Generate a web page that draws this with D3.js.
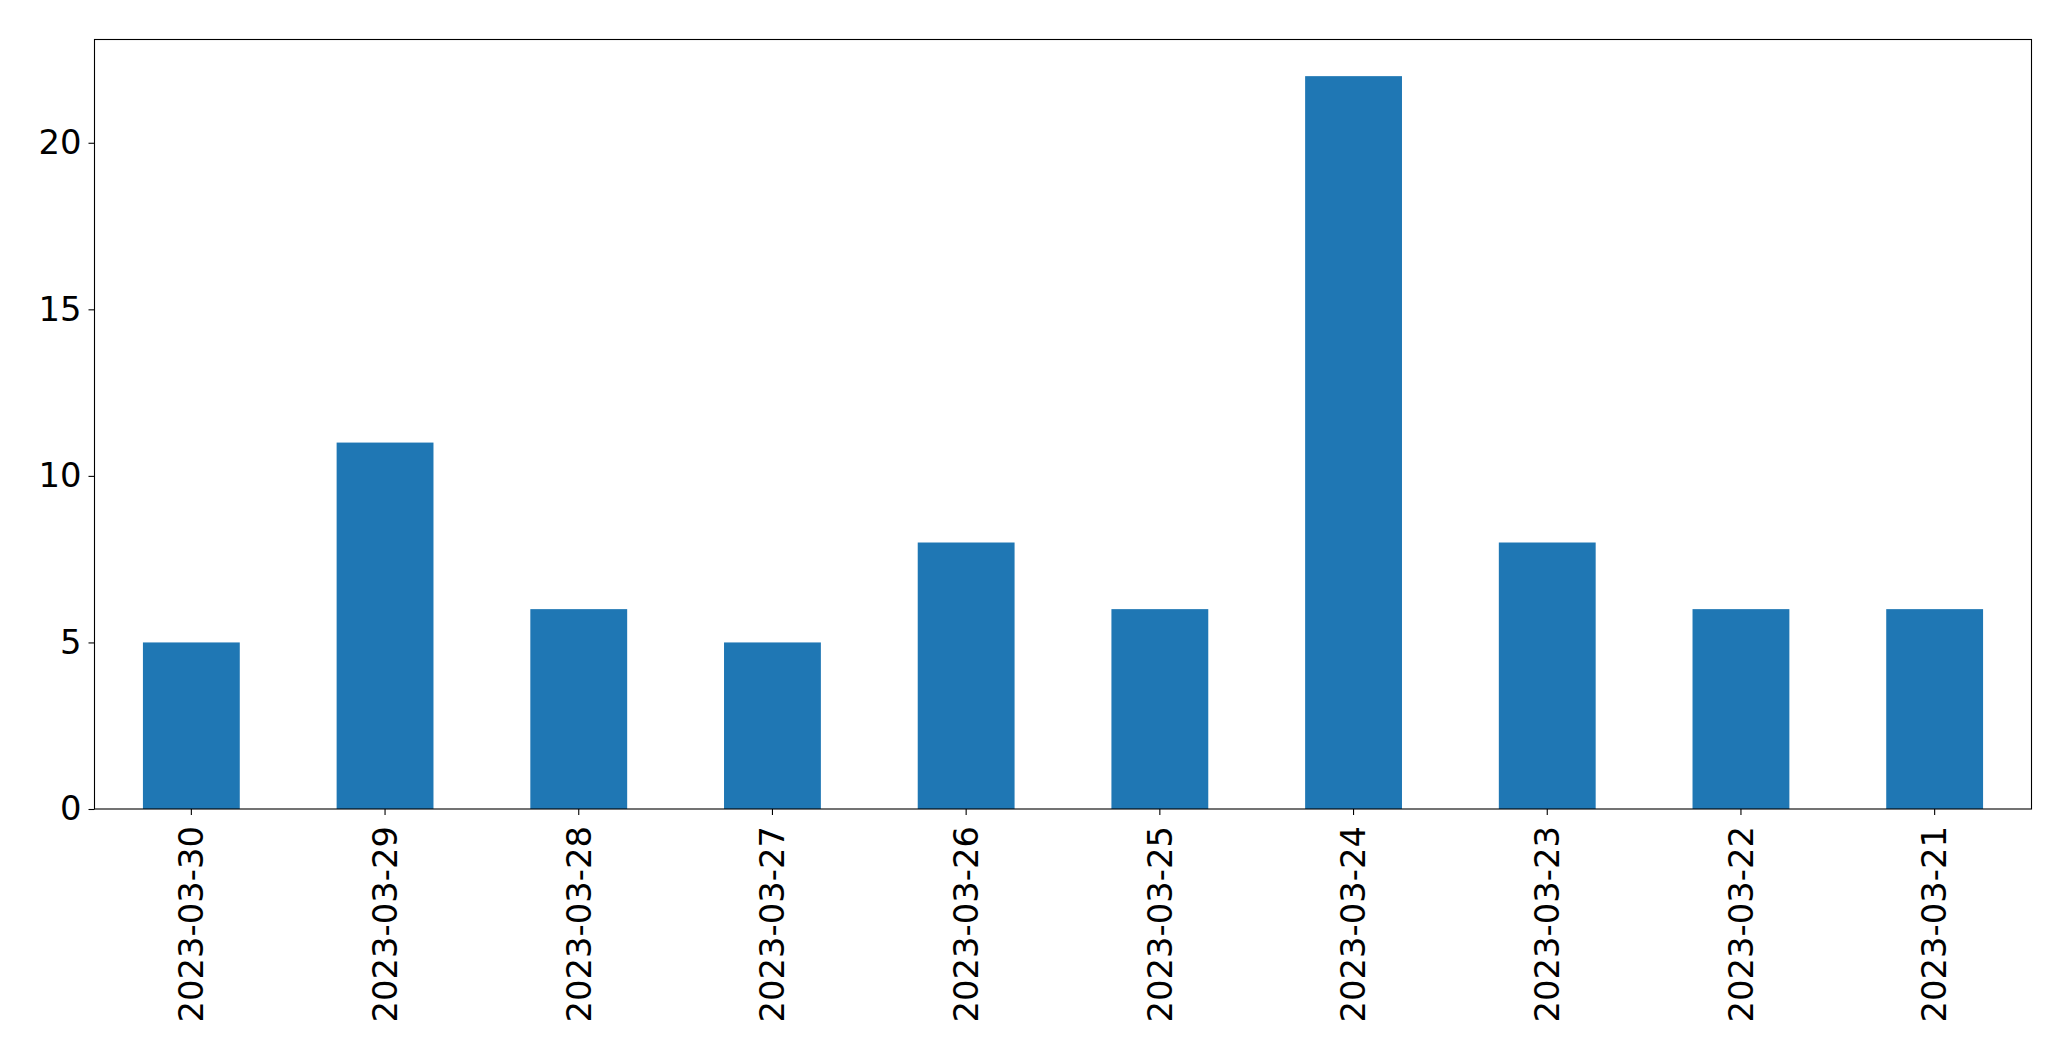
<!DOCTYPE html>
<html><head><meta charset="utf-8">
<script src="https://cdn.jsdelivr.net/npm/d3@7"></script>
<style>html,body{margin:0;padding:0;background:#fff;}svg{display:block;}</style>
</head><body>
<script>
const categories = ["2023-03-30","2023-03-29","2023-03-28","2023-03-27","2023-03-26","2023-03-25","2023-03-24","2023-03-23","2023-03-22","2023-03-21"];
const values = [5,11,6,5,8,6,22,8,6,6];
const yTicks = [0,5,10,15,20];

const W = 2071, H = 1061;
const m = {left: 94.5, right: W - 2031.5, top: 39.5, bottom: H - 809};
const fs = 33.8;
const svg = d3.select("body").append("svg").attr("width", W).attr("height", H);

const x = d3.scaleBand().domain(categories).range([m.left, W - m.right]).paddingInner(0.5).paddingOuter(0.25);
const yMax = d3.max(values) * 1.05;
const y = d3.scaleLinear().domain([0, yMax]).range([H - m.bottom, m.top]);

svg.append("g").selectAll("rect").data(values).join("rect")
  .attr("x", (d, i) => x(categories[i]))
  .attr("width", x.bandwidth())
  .attr("y", d => y(d))
  .attr("height", d => y(0) - y(d))
  .attr("fill", "#1f77b4");

const font = "DejaVu Sans, sans-serif";
const xa = svg.append("g").attr("transform", `translate(0,${H - m.bottom})`)
  .call(d3.axisBottom(x).tickSize(6).tickPadding(6));
xa.select(".domain").remove();
xa.selectAll("line").attr("stroke", "#000").attr("stroke-width", 1.1);
xa.selectAll("text").attr("font-family", font).attr("font-size", fs).attr("fill", "#000")
  .attr("transform", "rotate(-90)").attr("text-anchor", "end")
  .attr("x", -17).attr("y", 0).attr("dy", "0.35em");

const ya = svg.append("g").attr("transform", `translate(${m.left},0)`)
  .call(d3.axisLeft(y).tickValues(yTicks).tickSize(6).tickPadding(7));
ya.select(".domain").remove();
ya.selectAll("line").attr("stroke", "#000").attr("stroke-width", 1.1);
ya.selectAll("text").attr("font-family", font).attr("font-size", fs).attr("fill", "#000");

svg.append("rect").attr("x", m.left).attr("y", m.top)
  .attr("width", W - m.right - m.left).attr("height", H - m.bottom - m.top)
  .attr("fill", "none").attr("stroke", "#000").attr("stroke-width", 1.1);
</script>
</body></html>
